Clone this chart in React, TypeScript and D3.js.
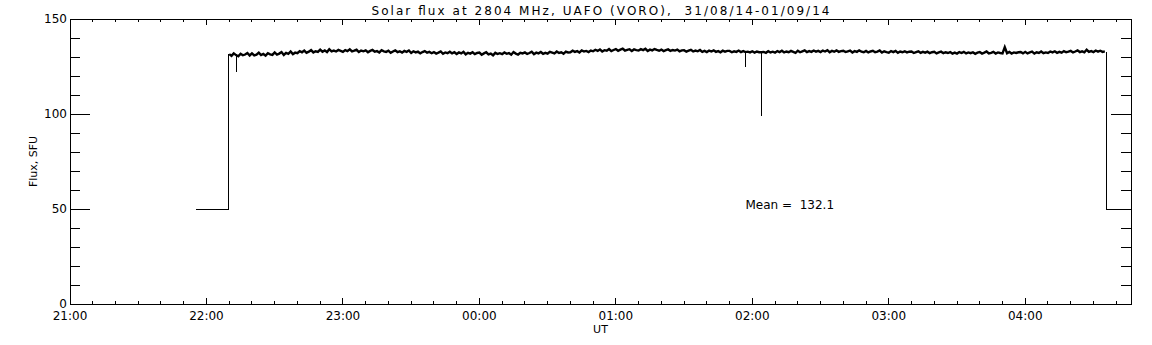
import React from 'react';
import * as d3 from 'd3';

const WIDTH = 1152;
const HEIGHT = 345;
const margin = { top: 19, right: 21, bottom: 41, left: 70 };

const TITLE = 'Solar flux at 2804 MHz, UAFO (VORO),  31/08/14-01/09/14';
const X_LABEL = 'UT';
const Y_LABEL = 'Flux, SFU';
const MEAN_TEXT = 'Mean =  132.1';
const MEAN_AT = { time: '2014-09-01T01:57:00Z', value: 50 };

const X_START = '2014-08-31T21:00:00Z';
const X_END = '2014-09-01T04:46:30Z';
const Y_MAJOR = [0, 50, 100, 150];
const Y_MINOR_STEP = 10;

// idle level before/after the observation window
const preTimes = ['2014-08-31T21:55:20Z', '2014-08-31T22:09:30Z', '2014-08-31T22:09:30Z'];
const preValues = [50, 50, 131.4];
const postTimes = ['2014-09-01T04:35:36Z', '2014-09-01T04:35:36Z', '2014-09-01T04:47:00Z'];
const postValues = [132.8, 50, 50];

// short dropouts in the record
const dipTimes = ['2014-08-31T22:13:00Z', '2014-09-01T01:57:00Z', '2014-09-01T02:04:00Z'];
const dipValues = [122, 125, 99];

// one reading per minute starting 22:10 UT
const fluxStart = '2014-08-31T22:10:00Z';
const fluxValues = [
  131.5, 130.6, 131.9, 131.0, 130.4, 131.7, 130.9, 131.3, 132.1, 130.8,
  131.9, 130.8, 131.2, 132.3, 131.0, 131.6, 130.7, 132.0, 131.4, 131.1,
  132.4, 131.3, 131.8, 132.6, 131.1, 132.2, 131.7, 132.9, 131.5, 132.3,
  132.0, 133.1, 132.5, 133.4, 132.2, 132.8, 133.6, 132.4, 133.0, 132.7,
  133.9, 132.8, 133.5, 132.6, 134.1, 133.0, 133.4, 132.9, 133.7, 133.2,
  132.7, 133.6, 133.1, 134.0, 132.9, 133.3, 133.8, 132.6, 133.4, 133.0,
  133.5, 132.5, 133.2, 133.7, 132.8, 133.1, 132.4, 133.6, 133.0, 132.7,
  133.3, 132.2, 132.9, 133.5, 132.6, 133.0, 132.3, 133.2, 132.7, 133.4,
  132.1, 133.0, 132.4, 132.8, 131.9, 132.6, 133.1, 132.3, 132.7, 132.0,
  132.6, 131.8, 132.3, 132.9, 131.7, 132.4, 132.0, 132.8, 131.9, 132.5,
  131.6, 132.4, 131.9, 132.7, 131.4, 132.2, 131.8, 132.5, 131.5, 132.1,
  132.3, 131.2, 131.9, 132.5, 131.4, 131.8, 130.9, 132.2, 131.6, 132.0,
  131.5, 132.4, 131.7, 132.1, 131.2, 132.6, 131.8, 131.3, 132.2, 131.9,
  132.4, 131.6, 132.1, 132.8, 131.5, 132.3, 131.9, 132.6, 131.7, 132.2,
  131.8, 132.7, 132.3, 131.9, 132.9, 132.1, 132.5, 131.7, 132.8, 132.4,
  132.5, 133.3, 132.7, 133.1, 132.4, 133.5, 132.9, 133.2, 132.6, 133.4,
  133.0, 133.8, 133.2, 134.0, 132.9, 133.6, 133.3, 134.2, 133.1, 133.7,
  134.2, 133.3, 133.9, 134.4, 133.4, 133.8, 134.1, 133.2, 134.0, 133.6,
  133.4, 134.1, 133.6, 134.3, 133.2, 133.9, 133.5, 134.2, 133.7, 133.3,
  133.9, 133.1, 133.6, 134.0, 133.2, 133.7, 133.4, 133.9, 133.0, 133.5,
  133.6, 132.8, 133.3, 133.8, 132.9, 133.4, 133.0, 133.7, 132.7, 133.2,
  132.6, 133.4, 132.9, 133.5, 132.7, 133.1, 132.5, 133.3, 132.8, 133.2,
  133.2, 132.5, 133.0, 132.7, 133.4, 132.6, 133.1, 132.6, 132.8, 132.4,
  133.0, 132.3, 132.9, 132.5, 132.5, 132.7, 132.2, 133.1, 132.4, 132.8,
  132.3, 133.1, 132.6, 133.3, 132.4, 132.9, 132.5, 133.2, 132.7, 132.2,
  133.3, 132.5, 133.0, 133.5, 132.6, 133.1, 132.7, 133.4, 132.8, 133.2,
  132.6, 133.4, 132.9, 133.6, 132.5, 133.2, 132.8, 133.5, 132.7, 133.1,
  133.3, 132.6, 133.0, 133.4, 132.4, 133.1, 132.7, 133.5, 132.8, 132.5,
  133.2, 132.4, 132.9, 133.3, 132.5, 132.8, 133.4, 132.3, 133.0, 132.6,
  132.3, 133.1, 132.6, 133.2, 132.2, 132.9, 132.5, 133.0, 132.4, 132.8,
  132.9, 132.1, 132.6, 133.0, 132.2, 132.7, 132.3, 132.8, 132.0, 132.5,
  132.7, 131.9, 132.4, 132.8, 132.0, 132.5, 132.1, 132.6, 131.8, 132.3,
  131.8, 132.6, 132.1, 132.7, 131.9, 132.4, 132.0, 132.5, 131.7, 132.3,
  132.6, 131.8, 132.3, 132.9, 131.9, 132.2, 132.7, 131.8, 132.4, 132.1,
  131.9, 135.2, 132.0, 132.7, 131.8, 132.4, 132.1, 132.5, 132.6, 131.9,
  132.7, 131.9, 132.4, 132.8, 131.8, 132.5, 132.1, 132.9, 132.0, 132.4,
  132.1, 132.9, 132.4, 133.0, 132.2, 132.7, 132.3, 133.1, 132.5, 132.8,
  133.2, 132.4, 132.9, 133.5, 132.6, 133.0, 132.5, 133.8, 132.7, 133.1,
  132.6, 133.4, 132.8, 133.3, 132.7, 133.0,
];

const FONT = '"DejaVu Sans", sans-serif';

type Pt = { t: Date; v: number };

export default function App() {
  const x0 = margin.left;
  const x1 = WIDTH - margin.right;
  const y0 = HEIGHT - margin.bottom;
  const y1 = margin.top;

  const xScale = d3.scaleUtc()
    .domain([new Date(X_START), new Date(X_END)])
    .range([x0, x1]);
  const yScale = d3.scaleLinear().domain([0, 150]).range([y0, y1]);

  const start = new Date(fluxStart);
  const flux: Pt[] = fluxValues.map((v, i) => ({ t: d3.utcMinute.offset(start, i), v }));
  const pre: Pt[] = preTimes.map((t, i) => ({ t: new Date(t), v: preValues[i] }));
  const post: Pt[] = postTimes.map((t, i) => ({ t: new Date(t), v: postValues[i] }));
  const dips = dipTimes.map((t, i) => {
    const time = new Date(t);
    const near = flux.find(p => p.t.getTime() === time.getTime());
    return { t: time, from: near ? near.v : 132, to: dipValues[i] };
  });

  const line = d3.line<Pt>()
    .x(d => xScale(d.t))
    .y(d => yScale(d.v));

  const hourTicks = xScale.ticks(d3.utcHour.every(1)!);
  const minorX = xScale.ticks(d3.utcMinute.every(10)!)
    .filter(d => d.getUTCMinutes() !== 0);
  const minorY = d3.range(0, 151, Y_MINOR_STEP).filter(v => v % 50 !== 0);
  const fmt = d3.utcFormat('%H:%M');

  const mx = xScale(new Date(MEAN_AT.time));
  const my = yScale(MEAN_AT.value);

  return (
    <svg width={WIDTH} height={HEIGHT}
      style={{ position: 'absolute', left: 0, top: 0, background: '#fff' }}
      fontFamily={FONT} fontSize={12}>
      <defs>
        <clipPath id="plot">
          <rect x={x0} y={y1} width={x1 - x0} height={y0 - y1} />
        </clipPath>
      </defs>

      <text x={(x0 + x1) / 2} y={15} textAnchor="middle" textLength={458}
        lengthAdjust="spacing" style={{ whiteSpace: 'pre' }}>{TITLE}</text>

      <g stroke="#000" strokeWidth={1} shapeRendering="crispEdges">
        <rect x={x0} y={y1} width={x1 - x0} height={y0 - y1} fill="none" />
        {hourTicks.map(d => (
          <g key={'h' + d.getTime()}>
            <line x1={xScale(d)} x2={xScale(d)} y1={y0} y2={y0 - 6} />
            <line x1={xScale(d)} x2={xScale(d)} y1={y1} y2={y1 + 6} />
          </g>
        ))}
        {minorX.map(d => (
          <g key={'m' + d.getTime()}>
            <line x1={xScale(d)} x2={xScale(d)} y1={y0} y2={y0 - 3} />
            <line x1={xScale(d)} x2={xScale(d)} y1={y1} y2={y1 + 3} />
          </g>
        ))}
        {Y_MAJOR.map(v => (
          <g key={'y' + v}>
            <line x1={x0} x2={x0 + 20} y1={yScale(v)} y2={yScale(v)} />
            <line x1={x1} x2={x1 - 20} y1={yScale(v)} y2={yScale(v)} />
          </g>
        ))}
        {minorY.map(v => (
          <g key={'ym' + v}>
            <line x1={x0} x2={x0 + 10} y1={yScale(v)} y2={yScale(v)} />
            <line x1={x1} x2={x1 - 10} y1={yScale(v)} y2={yScale(v)} />
          </g>
        ))}
      </g>

      {hourTicks.map(d => (
        <text key={'hl' + d.getTime()} x={xScale(d)} y={y0 + 16} textAnchor="middle">
          {fmt(d)}
        </text>
      ))}
      {Y_MAJOR.map(v => (
        <text key={'yl' + v} x={x0 - 3} y={yScale(v) + 4} textAnchor="end">{v}</text>
      ))}

      <text x={(x0 + x1) / 2} y={HEIGHT - 12} textAnchor="middle" fontSize={11}>{X_LABEL}</text>
      <text transform={`translate(37,${(y0 + y1) / 2}) rotate(-90)`} textAnchor="middle"
        fontSize={11}>{Y_LABEL}</text>

      <g clipPath="url(#plot)" fill="none" stroke="#000">
        <path d={line(pre) ?? ''} strokeWidth={1} shapeRendering="crispEdges" />
        <path d={line(flux) ?? ''} strokeWidth={2.4} strokeLinejoin="miter" />
        <path d={line(post) ?? ''} strokeWidth={1} shapeRendering="crispEdges" />
        {dips.map(d => (
          <line key={d.t.getTime()} x1={xScale(d.t)} x2={xScale(d.t)}
            y1={yScale(d.from)} y2={yScale(d.to)} strokeWidth={1}
            shapeRendering="crispEdges" />
        ))}
      </g>

      <text x={mx} y={my} style={{ whiteSpace: 'pre' }}>{MEAN_TEXT}</text>
    </svg>
  );
}
